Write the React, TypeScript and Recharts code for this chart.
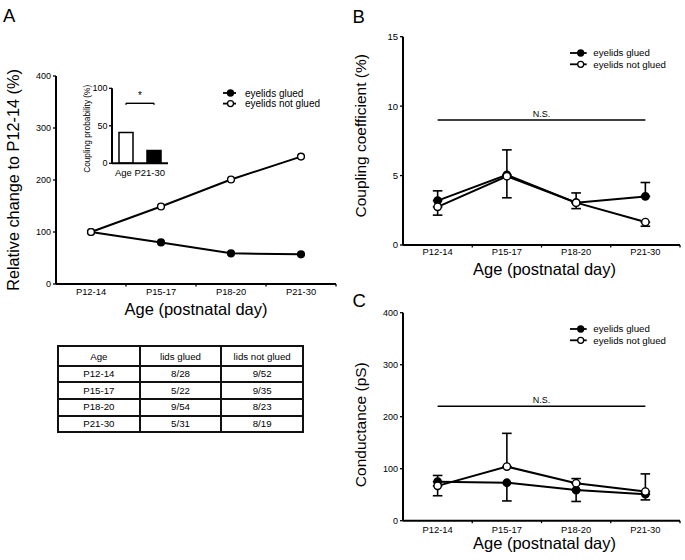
import React from 'react';
import {
  LineChart,
  Line,
  XAxis,
  YAxis,
  ErrorBar,
  ReferenceLine,
  Legend,
  BarChart,
  Bar,
  Cell,
} from 'recharts';

const FONT = "'Liberation Sans', Arial, Helvetica, sans-serif";

// ---------- data ----------
const categories = ['P12-14', 'P15-17', 'P18-20', 'P21-30'];
const seriesNames = ['eyelids glued', 'eyelids not glued'];

// Panel A: relative change to P12-14 (%)
const relGlued = [100, 80, 59, 57];
const relNotGlued = [100, 149, 201, 245];

// Panel A inset: coupling probability (%) at P21-30
const insetGroups = ['eyelids not glued', 'eyelids glued'];
const insetProbability = [41, 17];
const insetFills = ['#fff', '#000'];
const insetAxisLabel = 'Age P21-30';

// Table
const tableHeader = ['Age', 'lids glued', 'lids not glued'];
const lidsGluedCounts = ['8/28', '5/22', '9/54', '5/31'];
const lidsNotGluedCounts = ['9/52', '9/35', '8/23', '8/19'];

// Panel B: coupling coefficient (%)
const couplingGlued = [3.2, 5.05, 3.05, 3.5];
const couplingGluedErr = [0.7, 1.8, 0.7, 1.0];
const couplingNotGlued = [2.75, 4.95, 3.05, 1.65];
const couplingNotGluedErr = [0.6, 1.55, 0.43, 0.3];
const couplingNS = 9;

// Panel C: conductance (pS)
const conductGlued = [75, 73, 59, 51];
const conductGluedErr = [27, 35, 22, 11];
const conductNotGlued = [67, 104, 72, 56];
const conductNotGluedErr = [20, 64, 9, 34];
const conductNS = 220;

// ---------- derived tables ----------
const catX = (i: number) => i + 0.5;
const xTicks = [0.5, 1, 1.5, 2, 2.5, 3, 3.5, 4];

const dataA = categories.map((c, i) => ({
  x: catX(i),
  cat: c,
  glued: relGlued[i],
  notGlued: relNotGlued[i],
}));

const dataB = categories.map((c, i) => ({
  x: catX(i),
  cat: c,
  glued: couplingGlued[i],
  notGlued: couplingNotGlued[i],
  gluedErr: [0, couplingGluedErr[i]],
  notGluedErr: [couplingNotGluedErr[i], 0],
}));

const dataC = categories.map((c, i) => ({
  x: catX(i),
  cat: c,
  glued: conductGlued[i],
  notGlued: conductNotGlued[i],
  gluedErr: [conductGluedErr[i], 0],
  notGluedErr: [0, conductNotGluedErr[i]],
}));

const insetData = insetGroups.map((g, i) => ({ group: g, value: insetProbability[i] }));

const fills: Record<string, string> = { glued: '#000', notGlued: '#fff' };
const order = ['glued', 'notGlued'];

// ---------- helpers ----------
const CatTick = (props: any) => {
  const { x, y, payload, dy } = props;
  const v = Number(payload.value);
  if (Math.abs(v - Math.round(v)) < 1e-6) {
    return <line x1={x} x2={x} y1={y} y2={y + 2.5} stroke="#000" strokeWidth={1.3} />;
  }
  return (
    <text x={x} y={y + dy} textAnchor="middle" fontSize={9.4} fill="#000" fontFamily={FONT}>
      {categories[Math.floor(v)]}
    </text>
  );
};

const LegendBox = (props: any) => {
  const { payload, lineLen, dotX, textX, rowGap, fontSize } = props;
  const items = [...(payload || [])].sort(
    (a: any, b: any) => order.indexOf(a.dataKey) - order.indexOf(b.dataKey)
  );
  return (
    <svg width={140} height={rowGap * 2 + 6} style={{ display: 'block', overflow: 'visible' }}>
      {items.map((p: any, i: number) => {
        const cy = 6 + i * rowGap;
        return (
          <g key={p.dataKey}>
            <line x1={0} x2={lineLen} y1={cy} y2={cy} stroke="#000" strokeWidth={1.8} />
            <circle cx={dotX} cy={cy} r={3} fill={fills[p.dataKey]} stroke="#000" strokeWidth={1.3} />
            <text x={textX} y={cy} dy="0.35em" fontSize={fontSize} fill="#000" fontFamily={FONT}>
              {p.value}
            </text>
          </g>
        );
      })}
    </svg>
  );
};

const axisStyle = { stroke: '#000', strokeWidth: 2 };
const tickLineStyle = { stroke: '#000', strokeWidth: 1.3 };

const dotStyle = (fill: string, r: number) => ({ r, fill, stroke: '#000', strokeWidth: 1.4 });

const yTitle = (value: string, fontSize: number, offset: number, dy: number) => ({
  value,
  angle: -90,
  position: 'insideLeft' as const,
  offset,
  dy,
  fontSize,
  fill: '#000',
  style: { textAnchor: 'middle', fontSize, fill: '#000', fontFamily: FONT },
});

const xTitle = (value: string, fontSize: number, offset: number, dx: number) => ({
  value,
  position: 'insideBottom' as const,
  offset,
  dx,
  fontSize,
  fill: '#000',
  style: { fontSize, fill: '#000', fontFamily: FONT },
});

// ---------- panels ----------
const PanelA = () => (
  <div style={{ position: 'absolute', left: 0, top: 0 }}>
    <LineChart width={340} height={330} data={dataA} margin={{ top: 76, right: 4, bottom: 16, left: 16 }}>
      <XAxis
        dataKey="x"
        type="number"
        domain={[0, 4]}
        ticks={xTicks}
        interval={0}
        height={30}
        axisLine={axisStyle}
        tickLine={false}
        tickSize={0}
        tickMargin={0}
        tick={(p: any) => <CatTick {...p} dy={11} />}
        label={xTitle('Age (postnatal day)', 16.5, -1, 0)}
      />
      <YAxis
        type="number"
        domain={[0, 400]}
        ticks={[0, 100, 200, 300, 400]}
        width={40}
        axisLine={axisStyle}
        tickLine={tickLineStyle}
        tickSize={3}
        tickMargin={2}
        tick={{ fill: '#000', fontSize: 9, fontFamily: FONT }}
        label={yTitle('Relative change to P12-14 (%)', 16.3, -2.7, 0)}
      />
      <Legend
        layout="vertical"
        align="center"
        verticalAlign="middle"
        wrapperStyle={{ left: 223, top: 86.7, width: 'auto', height: 'auto' }}
        content={(p: any) => (
          <LegendBox payload={p.payload} lineLen={13} dotX={7.5} textX={22} rowGap={10.6} fontSize={10} />
        )}
      />
      <Line
        dataKey="glued"
        name={seriesNames[0]}
        stroke="#000"
        strokeWidth={2}
        dot={dotStyle(fills.glued, 3.4)}
        isAnimationActive={false}
      />
      <Line
        dataKey="notGlued"
        name={seriesNames[1]}
        stroke="#000"
        strokeWidth={2}
        dot={dotStyle(fills.notGlued, 3.4)}
        isAnimationActive={false}
      />
    </LineChart>
  </div>
);

const Inset = () => (
  <div style={{ position: 'absolute', left: 60, top: 60 }}>
    <BarChart width={115} height={120} data={insetData} margin={{ top: 28.3, right: 7, bottom: 0.7, left: 22 }}>
      <XAxis
        dataKey="group"
        height={16}
        axisLine={axisStyle}
        tickLine={false}
        tick={false}
        label={{
          value: insetAxisLabel,
          position: 'insideBottom',
          offset: 3.3,
          fontSize: 9.5,
          fill: '#000',
          style: { fontSize: 9.5, fill: '#000', fontFamily: FONT },
        }}
      />
      <YAxis
        type="number"
        domain={[0, 100]}
        ticks={[0, 50, 100]}
        width={30}
        axisLine={axisStyle}
        tickLine={tickLineStyle}
        tickSize={3}
        tickMargin={1.5}
        tick={{ fill: '#000', fontSize: 9, fontFamily: FONT }}
        label={yTitle('Coupling probability (%)', 8.3, 5, 3)}
      />
      <ReferenceLine
        segment={[{ x: insetGroups[0], y: 80 }, { x: insetGroups[1], y: 80 }]}
        stroke="#000"
        strokeWidth={1.4}
        label={{ value: '*', position: 'top', offset: 4, fontSize: 10, fill: '#000' }}
      />
      <ReferenceLine
        segment={[{ x: insetGroups[0], y: 80 }, { x: insetGroups[0], y: 78 }]}
        stroke="#000"
        strokeWidth={1.4}
      />
      <ReferenceLine
        segment={[{ x: insetGroups[1], y: 80 }, { x: insetGroups[1], y: 78 }]}
        stroke="#000"
        strokeWidth={1.4}
      />
      <Bar dataKey="value" barSize={14} stroke="#000" strokeWidth={1.5} isAnimationActive={false}>
        {insetData.map((d, i) => (
          <Cell key={d.group} fill={insetFills[i]} />
        ))}
      </Bar>
    </BarChart>
  </div>
);

const cellStyle: React.CSSProperties = {
  border: '2px solid #111',
  padding: 0,
  textAlign: 'center',
  verticalAlign: 'middle',
  lineHeight: '12px',
};

const CountTable = () => (
  <table
    style={{
      position: 'absolute',
      left: 57,
      top: 345,
      width: 247,
      borderCollapse: 'collapse',
      tableLayout: 'fixed',
      fontFamily: FONT,
      fontSize: 9.7,
      color: '#000',
    }}
  >
    <tbody>
      <tr style={{ height: 19.5 }}>
        {tableHeader.map((h) => (
          <td key={h} style={{ ...cellStyle, verticalAlign: 'bottom', paddingBottom: 2 }}>
            {h}
          </td>
        ))}
      </tr>
      {categories.map((c, i) => (
        <tr key={c} style={{ height: 16.7 }}>
          <td style={cellStyle}>{c}</td>
          <td style={cellStyle}>{lidsGluedCounts[i]}</td>
          <td style={cellStyle}>{lidsNotGluedCounts[i]}</td>
        </tr>
      ))}
    </tbody>
  </table>
);

type ErrPanelProps = {
  left: number;
  top: number;
  width: number;
  height: number;
  data: any[];
  margin: any;
  domain: [number, number];
  yTicks: number[];
  ns: number;
  yLabel: string;
  yLabelDy: number;
  tickDy: number;
  xLabelOffset: number;
  legendTop: number;
  yTickFont: number;
};

const ErrPanel = (p: ErrPanelProps) => (
  <div style={{ position: 'absolute', left: p.left, top: p.top }}>
    <LineChart width={p.width} height={p.height} data={p.data} margin={p.margin}>
      <XAxis
        dataKey="x"
        type="number"
        domain={[0, 4]}
        ticks={xTicks}
        interval={0}
        height={30}
        axisLine={axisStyle}
        tickLine={false}
        tickSize={0}
        tickMargin={0}
        tick={(tp: any) => <CatTick {...tp} dy={p.tickDy} />}
        label={xTitle('Age (postnatal day)', 16.5, p.xLabelOffset, 3)}
      />
      <YAxis
        type="number"
        domain={p.domain}
        ticks={p.yTicks}
        width={40}
        axisLine={axisStyle}
        tickLine={tickLineStyle}
        tickSize={3}
        tickMargin={2}
        tick={{ fill: '#000', fontSize: p.yTickFont, fontFamily: FONT }}
        label={yTitle(p.yLabel, 15.5, -2.3, p.yLabelDy)}
      />
      <Legend
        layout="vertical"
        align="center"
        verticalAlign="middle"
        wrapperStyle={{ left: 230, top: p.legendTop, width: 'auto', height: 'auto' }}
        content={(lp: any) => (
          <LegendBox payload={lp.payload} lineLen={16.7} dotX={10.7} textX={23.3} rowGap={11.3} fontSize={9.7} />
        )}
      />
      <ReferenceLine
        segment={[{ x: catX(0), y: p.ns }, { x: catX(3), y: p.ns }]}
        stroke="#000"
        strokeWidth={1.5}
        label={{ value: 'N.S.', position: 'top', offset: 3, fontSize: 9, fill: '#000' }}
      />
      <Line
        dataKey="glued"
        name={seriesNames[0]}
        stroke="#000"
        strokeWidth={2}
        dot={dotStyle(fills.glued, 3.7)}
        isAnimationActive={false}
      >
        <ErrorBar dataKey="gluedErr" width={4.8} stroke="#000" strokeWidth={1.6} direction="y" />
      </Line>
      <Line
        dataKey="notGlued"
        name={seriesNames[1]}
        stroke="#000"
        strokeWidth={2}
        dot={dotStyle(fills.notGlued, 3.7)}
        isAnimationActive={false}
      >
        <ErrorBar dataKey="notGluedErr" width={4.8} stroke="#000" strokeWidth={1.6} direction="y" />
      </Line>
    </LineChart>
  </div>
);

const Letters = () => (
  <svg
    width={685}
    height={560}
    style={{ position: 'absolute', left: 0, top: 0, pointerEvents: 'none' }}
  >
    <text x={3} y={21.7} fontSize={18.5} fontFamily={FONT} fill="#000">A</text>
    <text x={352.5} y={23.3} fontSize={18.5} fontFamily={FONT} fill="#000">B</text>
    <text x={352.5} y={306.7} fontSize={18.5} fontFamily={FONT} fill="#000">C</text>
  </svg>
);

export default function App() {
  return (
    <div
      style={{
        position: 'absolute',
        left: 0,
        top: 0,
        width: 685,
        height: 560,
        background: '#fff',
        fontFamily: FONT,
        overflow: 'hidden',
      }}
    >
      <PanelA />
      <Inset />
      <CountTable />
      <ErrPanel
        left={340}
        top={0}
        width={345}
        height={280}
        data={dataB}
        margin={{ top: 36.7, right: 5, bottom: 5, left: 23 }}
        domain={[0, 15]}
        yTicks={[0, 5, 10, 15]}
        ns={couplingNS}
        yLabel="Coupling coefficient (%)"
        yLabelDy={-5}
        tickDy={10}
        xLabelOffset={0}
        legendTop={46.7}
        yTickFont={9.5}
      />
      <ErrPanel
        left={340}
        top={270}
        width={345}
        height={290}
        data={dataC}
        margin={{ top: 42.7, right: 5, bottom: 9.3, left: 23 }}
        domain={[0, 400]}
        yTicks={[0, 100, 200, 300, 400]}
        ns={conductNS}
        yLabel="Conductance (pS)"
        yLabelDy={8}
        tickDy={12}
        xLabelOffset={1.7}
        legendTop={53.3}
        yTickFont={9}
      />
      <Letters />
    </div>
  );
}
